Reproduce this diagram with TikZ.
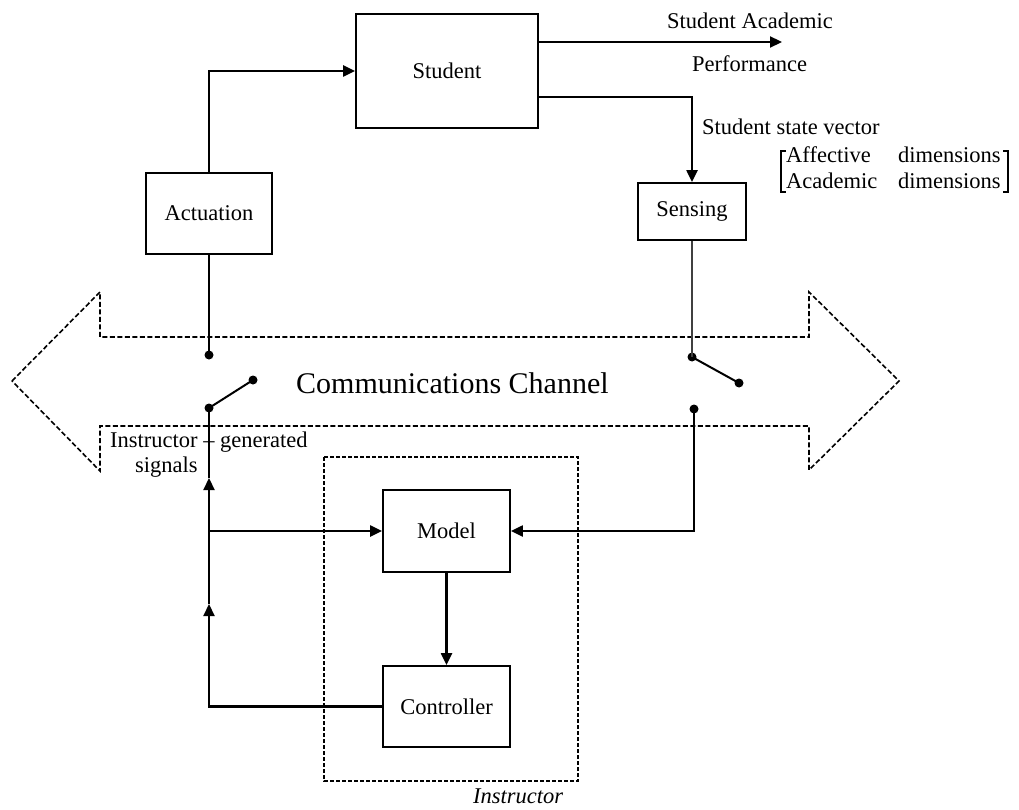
\documentclass[tikz,border=0pt]{standalone}
\usepackage{fontspec}
\setmainfont{Liberation Serif}
\usetikzlibrary{arrows.meta}
\begin{document}
\begin{tikzpicture}[x=1pt,y=-1pt,
  blk/.style={draw,line width=1.8pt,minimum width=#1,inner sep=0pt,font=\fontsize{22.5}{27}\selectfont},
  conn/.style={line width=2.2pt},
  arr/.style={conn,-{Triangle[length=12pt,width=11pt]}},
  lbl/.style={anchor=base west,inner sep=0pt,font=\fontsize{22.5}{27}\selectfont},
  chan/.style={line width=1.6pt,dash pattern=on 5pt off 2.5pt},
  dotpt/.style={circle,fill=black,inner sep=0pt,minimum size=9pt}]
\useasboundingbox (0,0) rectangle (1019,810);

% blocks
\node[blk=182pt,minimum height=114pt] (student) at (447,71) {Student};
\node[blk=126pt,minimum height=81pt] (act) at (209,213.5) {Actuation};
\node[blk=108pt,minimum height=57pt] (sens) at (692,211.5) {Sensing};
\node[blk=127pt,minimum height=82pt] (model) at (446.5,531) {Model};
\node[blk=127pt,minimum height=81pt] (ctrl) at (446.5,706.5) {Controller};

% instructor boundary
\draw[chan,line width=1.4pt,dash pattern=on 4pt off 2pt] (324,457) rectangle (578,781);
\node[lbl,font=\fontsize{22.5}{27}\selectfont\itshape] (instr) at (473,803) {Instructor};

% communications channel (double arrow outline)
\draw[chan] (12,381) -- (100,292) -- (100,337) -- (809,337) -- (809,292) -- (899,381)
  -- (809,470) -- (809,426) -- (100,426) -- (100,471) -- cycle;
\node[lbl,font=\fontsize{30}{36}\selectfont] (chtext) at (296,393) {Communications Channel};

% switch contacts
\node[dotpt] (swL1) at (209,355) {};
\node[dotpt] (swL2) at (209,408) {};
\node[dotpt] (swL3) at (253,380) {};
\node[dotpt] (swR1) at (692,357) {};
\node[dotpt] (swR2) at (739,383) {};
\node[dotpt] (swR3) at (694,409) {};
\draw[conn,line width=2pt] (swL2.center) -- (swL3.center);
\draw[conn,line width=2pt] (swR1.center) -- (swR2.center);

% helper points
\coordinate (perf) at (782,42);
\coordinate (lt1) at (209,604);
\coordinate (lt2) at (209,478);
\coordinate (br) at (209,531);
\coordinate (stout1) at (538,42);
\coordinate (stout2) at (538,97);

% connectors
\draw[arr] (act.north) |- (student.west);
\draw[arr] (stout1) -- (perf);
\draw[arr] (stout2) -| (sens.north);
\draw[conn,line width=1.8pt,black!75] (sens.south) -- (swR1.center);
\draw[conn] (act.south) -- (swL1.center);
\draw[arr] (swR3.center) |- (model.east);
\draw[arr] (model.south) -- (ctrl.north);
\draw[arr] (ctrl.west) -| (lt1);
\draw[arr] (lt1) -- (lt2);
\draw[conn] (lt2) -- (swL2.center);
\draw[arr] (br) -- (model.west);

% labels
\node[lbl] (sap1) at (667,29) {Student Academic};
\node[lbl] (sap2) at (692,72) {Performance};
\node[lbl] (ssv) at (702,135) {Student state vector};
\node[lbl] (aff) at (786,163) {Affective};
\node[lbl] (affd) at (898,163) {dimensions};
\node[lbl] (aca) at (786,189) {Academic};
\node[lbl] (acad) at (898,189) {dimensions};
\draw[line width=1.4pt] (786,151) -- (781,151) -- (781,192) -- (786,192);
\draw[line width=1.4pt] (1003,151) -- (1008,151) -- (1008,192) -- (1003,192);
\node[lbl] (igs1) at (110,447) {Instructor – generated};
\node[lbl] (igs2) at (135,472) {signals};
\end{tikzpicture}
\end{document}
